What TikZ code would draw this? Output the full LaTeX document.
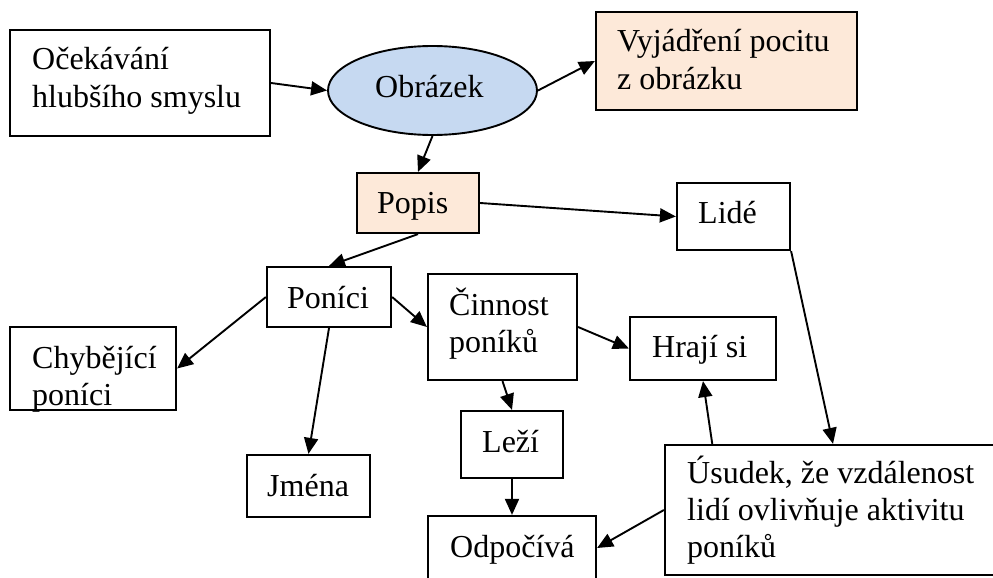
\documentclass[tikz,border=0pt]{standalone}
\usepackage{fontspec}
\setmainfont{Liberation Serif}
\usetikzlibrary{arrows.meta,shapes.geometric,calc}
\definecolor{ovalblue}{HTML}{C6D9F1}
\definecolor{peach}{HTML}{FDE9D9}
\begin{document}
\begin{tikzpicture}[x=1pt,y=-1pt,
  box/.style={draw,line width=2.2pt,inner sep=0pt},
  lbl/.style={anchor=base west,inner sep=0pt,font=\fontsize{32}{37}\selectfont},
  link/.style={line width=1.9pt,-{Triangle[length=16pt,width=14pt]}}]
\useasboundingbox (0,0) rectangle (993,578);
\begin{scope}
\clip (0,0) rectangle (993,578);
% boxes
\node[box,minimum width=260pt,minimum height=106pt] (oce) at (140,83) {};
\node[box,ellipse,fill=ovalblue,line width=1.9pt,minimum width=209pt,minimum height=89pt] (obr) at (432.5,90.5) {};
\node[box,fill=peach,minimum width=261pt,minimum height=98pt] (vyj) at (726.5,61) {};
\node[box,fill=peach,minimum width=122pt,minimum height=60pt] (popis) at (418,203) {};
\node[box,minimum width=113pt,minimum height=67pt] (lide) at (733.5,216.5) {};
\node[box,minimum width=124pt,minimum height=60pt] (ponici) at (329,297) {};
\node[box,minimum width=166pt,minimum height=83pt] (chyb) at (93,368.5) {};
\node[box,minimum width=149pt,minimum height=106pt] (cinn) at (502.5,327) {};
\node[box,minimum width=146pt,minimum height=63pt] (hraji) at (703,348.5) {};
\node[box,minimum width=123pt,minimum height=62pt] (jmena) at (308.5,486) {};
\node[box,minimum width=102pt,minimum height=67pt] (lezi) at (512,444.5) {};
\node[box,minimum width=168pt,minimum height=64pt] (odp) at (512,548) {};
\node[box,minimum width=336pt,minimum height=130pt] (usud) at (833,510) {};
% texts
\node[lbl] (oce1) at (32,70) {Očekávání};
\node[lbl] (oce2) at (32,107) {hlubšího smyslu};
\node[lbl] (obr1) at (375,97) {Obrázek};
\node[lbl] (vyj1) at (617,52) {Vyjádření pocitu};
\node[lbl] (vyj2) at (617,89) {z obrázku};
\node[lbl] (popis1) at (377,213) {Popis};
\node[lbl] (lide1) at (698,223) {Lidé};
\node[lbl] (ponici1) at (287,308) {Poníci};
\node[lbl] (chyb1) at (32,368) {Chybějící};
\node[lbl] (chyb2) at (32,405) {poníci};
\node[lbl] (cinn1) at (449,315) {Činnost};
\node[lbl] (cinn2) at (449,352) {poníků};
\node[lbl] (hraji1) at (652,357) {Hrají si};
\node[lbl] (jmena1) at (267,496) {Jména};
\node[lbl] (lezi1) at (482,452) {Leží};
\node[lbl] (odp1) at (450,557) {Odpočívá};
\node[lbl] (usud1) at (687,483) {Úsudek, že vzdálenost};
\node[lbl] (usud2) at (687,520) {lidí ovlivňuje aktivitu};
\node[lbl] (usud3) at (687,557) {poníků};
% connectors
\draw[link] (oce.east) -- (obr.west);
\draw[link] (obr.east) -- (vyj.west);
\draw[link] (obr.south) -- (popis.north);
\draw[link] (popis.east) -- (lide.west);
\draw[link] (popis.south) -- (ponici.north);
\draw[link] (ponici.west) -- (chyb.east);
\draw[link] (ponici.east) -- (cinn.west);
\draw[link] (ponici.south) -- (jmena.north);
\draw[link] (cinn.east) -- (hraji.west);
\draw[link] (cinn.south) -- (lezi.north);
\draw[link] (lezi.south) -- (odp.north);
\draw[link] (lide.south east) -- (usud.north);
\draw[link] ($(usud.north west)!0.143!(usud.north east)$) -- (hraji.south);
\draw[link] (usud.west) -- (odp.east);
\end{scope}
\end{tikzpicture}
\end{document}
